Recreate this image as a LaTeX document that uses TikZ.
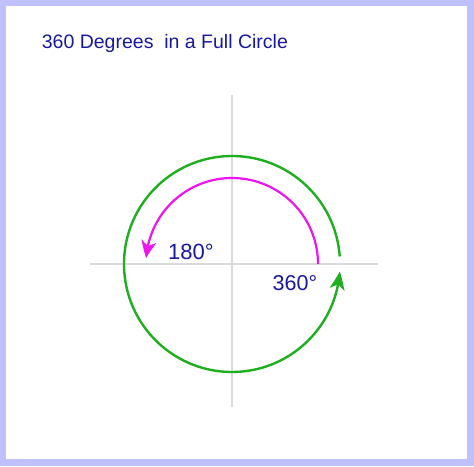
\documentclass[tikz,border=0pt]{standalone}
\usepackage{fontspec}
\setmainfont{Liberation Sans}
\usetikzlibrary{arrows.meta,bending}
\definecolor{framecol}{RGB}{192,192,255}
\definecolor{textblue}{RGB}{24,24,160}
\definecolor{axisgray}{RGB}{218,218,218}
\definecolor{arcgreen}{RGB}{30,175,30}
\definecolor{arcmagenta}{RGB}{238,20,238}
\tikzset{
  axisline/.style={draw=axisgray,line width=1.8pt},
  greenarc/.style={draw=arcgreen,line width=2.4pt,-{Stealth[length=18pt,width=15pt,inset=5pt,bend]}},
  magentaarc/.style={draw=arcmagenta,line width=2.2pt,-{Stealth[length=17pt,width=15pt,inset=5pt,bend]}},
  label/.style={text=textblue,inner sep=0pt,anchor=base west}
}
\begin{document}
\begin{tikzpicture}[x=1pt,y=1pt]
\useasboundingbox (0,0) rectangle (474,466);
\fill[framecol] (0,0) rectangle (474,466);
\fill[white] (6,7) rectangle (467,460);
\coordinate (O) at (232,202);
\coordinate (vtop) at (232,371);
\coordinate (vbot) at (232,59);
\coordinate (hl) at (90,202);
\coordinate (hr) at (378,202);
\draw[axisline] (vtop) -- (vbot);
\draw[axisline] (hl) -- (hr);
\draw[greenarc] ([shift={(4:108)}]O) arc[start angle=4,end angle=356,radius=108];
\draw[magentaarc] ([shift={(0:86)}]O) arc[start angle=0,end angle=176,radius=86];
\node[label,font=\fontsize{19.5}{23}\selectfont] (title) at (41.7,417.7) {360 Degrees~ in a Full Circle};
\node[label,font=\fontsize{22}{26}\selectfont] (l180) at (168,206) {180°};
\node[label,font=\fontsize{21.5}{26}\selectfont] (l360) at (272.5,175) {360°};
\end{tikzpicture}
\end{document}
